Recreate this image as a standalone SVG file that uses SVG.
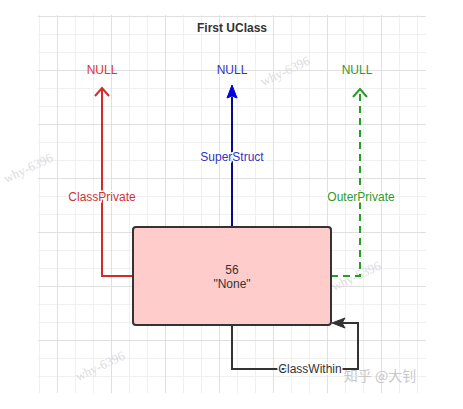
<svg xmlns="http://www.w3.org/2000/svg" width="463" height="409" viewBox="0 0 463 409">
<style>
text{font-family:"Liberation Sans",Arial,sans-serif;font-size:12px;text-anchor:middle}
.title{fill:#333;font-weight:bold}
.wm{fill:#dcdcdc;font-family:"Liberation Serif",serif;font-size:13px}
.lbl{paint-order:stroke;stroke:#fff;stroke-width:3px}
</style>
<defs>
<pattern id="minor" x="3" y="16" width="18" height="18" patternUnits="userSpaceOnUse">
<path d="M0 0.5H18M0.5 0V18" fill="none" stroke="#f0f0f0" stroke-width="1"/>
</pattern>
<pattern id="major" x="3" y="16" width="54" height="54" patternUnits="userSpaceOnUse">
<path d="M0 0.5H54M0.5 0V54" fill="none" stroke="#e0e0e0" stroke-width="1"/>
</pattern>
</defs>
<rect width="463" height="409" fill="#fff"/>
<g id="grid">
<rect x="38" y="15" width="388" height="378" fill="url(#minor)"/>
<rect x="38" y="15" width="388" height="378" fill="url(#major)"/>
</g>
<g id="watermarks">
<text class="wm" x="30" y="172" transform="rotate(-25 30 172)">why-6396</text>
<text class="wm" x="287" y="75" transform="rotate(-25 287 75)">why-6396</text>
<text class="wm" x="358" y="280" transform="rotate(-25 358 280)">why-6396</text>
<text class="wm" x="102" y="370" transform="rotate(-25 102 370)">why-6396</text>
<text x="380" y="381" style="font-family:'Noto Sans CJK SC',sans-serif;font-size:14px;fill:#c8c8c8">知乎 @大钊</text>
</g>
<g id="title"><text class="title" x="232" y="32">First UClass</text></g>
<g id="null-red"><text x="102" y="74" fill="#dd3333">NULL</text></g>
<g id="null-blue"><text x="232" y="74" fill="#3333bb">NULL</text></g>
<g id="null-green"><text x="357" y="74" fill="#2e9a2e">NULL</text></g>
<g id="connectors">
<path d="M133 276H102V88" fill="none" stroke="#d42a2a" stroke-width="2"/>
<path d="M95 96L102 88L109 96" fill="none" stroke="#d42a2a" stroke-width="2"/>
<path d="M232 227V97" fill="none" stroke="#0a0a8c" stroke-width="2"/>
<path d="M232 85L227 98L232 96L237 98Z" fill="#0000dd" stroke="#0000dd" stroke-width="1"/>
<path d="M331 276H360V89" fill="none" stroke="#2a9a2a" stroke-width="2" stroke-dasharray="7 5"/>
<path d="M353 97L360 89L367 97" fill="none" stroke="#2a9a2a" stroke-width="2"/>
<path d="M232 325V369H358V323H342" fill="none" stroke="#333" stroke-width="2"/>
<path d="M332 323L345 318L342 323L345 328Z" fill="#333" stroke="#333" stroke-width="1"/>
<text class="lbl" x="102" y="201" fill="#cc3333">ClassPrivate</text>
<text class="lbl" x="232" y="161" fill="#3333bb">SuperStruct</text>
<text class="lbl" x="361" y="201" fill="#2e9a2e">OuterPrivate</text>
<text class="lbl" x="310" y="373" fill="#333">ClassWithin</text>
</g>
<g id="uclass">
<rect x="133" y="227" width="198" height="98" rx="3" fill="#ffcccc" stroke="#333" stroke-width="2"/>
<text x="232" y="274" fill="#333">56</text>
<text x="232" y="288" fill="#333">"None"</text>
</g>
</svg>
